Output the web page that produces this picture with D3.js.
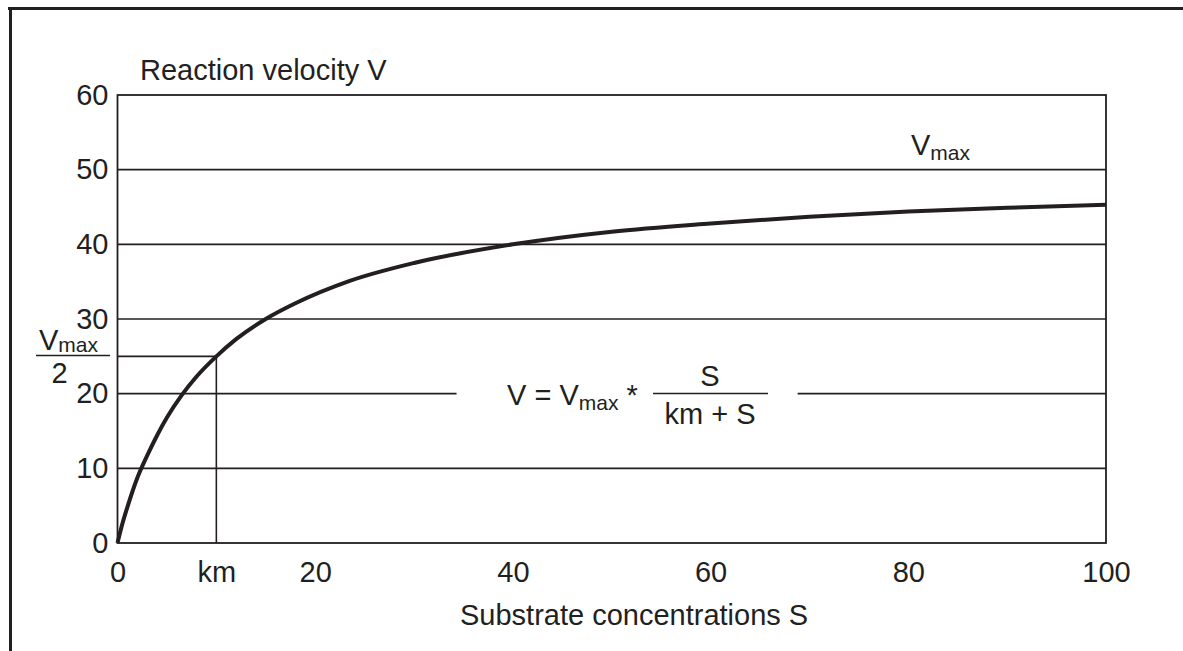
<!DOCTYPE html>
<html>
<head>
<meta charset="utf-8">
<script src="https://cdn.jsdelivr.net/npm/d3@7"></script>
<style>
  body { margin: 0; background: #fff; }
  svg text { font-family: Arial, "Liberation Sans", sans-serif; fill: #231f20; }
</style>
</head>
<body>
<svg width="1183" height="651"></svg>
<script>
// substrate concentration S and reaction velocity V
const sValues = [0, 0.5, 1, 2, 3, 4, 5, 6.5, 8, 10, 12, 15, 18, 23.5, 30, 40, 50, 60, 70, 80, 90, 100]
const vValues = [0, 2.6, 4.8, 8.7, 11.7, 14.4, 16.8, 19.8, 22.3, 25, 27.3, 30, 32.1, 35.1, 37.5, 40, 41.7, 42.8, 43.7, 44.4, 44.9, 45.3]
const yTicks = [0, 10, 20, 30, 40, 50, 60]
const xTicks = [0, 10, 20, 40, 60, 80, 100]
const xTickLabels = ['0', 'km', '20', '40', '60', '80', '100']
const gridValues = [10, 20, 30, 40, 50]
const km = 10
const halfVmax = 25

const INK = '#231f20'
const FS = '29px'
const SUB = '21px'
const svg = d3.select('svg')
const x = d3.scaleLinear().domain([0, 100]).range([117.5, 1106])
const y = d3.scaleLinear().domain([0, 60]).range([543, 95])
const gap = [34.3, 68.8] // hole in the 20 line for the formula

// outer frame (top and left only)
svg.append('line').attr('x1', 8).attr('y1', 8.5).attr('x2', 1183).attr('y2', 8.5)
    .attr('stroke', INK).attr('stroke-width', 3)
svg.append('line').attr('x1', 10.5).attr('y1', 7).attr('x2', 10.5).attr('y2', 651)
    .attr('stroke', INK).attr('stroke-width', 3)

// grid lines
gridValues.forEach(function (v) {
    let segs = v === 20 ? [[0, gap[0]], [gap[1], 100]] : [[0, 100]]
    segs.forEach(function (s) {
	svg.append('line')
	    .attr('x1', x(s[0])).attr('x2', x(s[1]))
	    .attr('y1', y(v)).attr('y2', y(v))
	    .attr('stroke', INK).attr('stroke-width', 1.6)
    })
})

// km / Vmax/2 guide lines
svg.append('line').attr('x1', x(0)).attr('x2', x(km)).attr('y1', y(halfVmax)).attr('y2', y(halfVmax))
    .attr('stroke', INK).attr('stroke-width', 1.6)
svg.append('line').attr('x1', x(km)).attr('x2', x(km)).attr('y1', y(0)).attr('y2', y(halfVmax))
    .attr('stroke', INK).attr('stroke-width', 1.6)

// plot frame
svg.append('rect')
    .attr('x', x(0)).attr('y', y(60))
    .attr('width', x(100) - x(0)).attr('height', y(0) - y(60))
    .attr('fill', 'none').attr('stroke', INK).attr('stroke-width', 1.8)

// curve
const pts = sValues.map((s, i) => [s, vValues[i]])
const line = d3.line()
    .x(d => x(d[0]))
    .y(d => y(d[1]))
    .curve(d3.curveMonotoneX)
svg.append('path')
    .datum(pts)
    .attr('d', line)
    .attr('fill', 'none')
    .attr('stroke', INK)
    .attr('stroke-width', 4)

// axes (labels only)
const yAxis = d3.axisLeft(y).tickValues(yTicks).tickSize(0).tickPadding(9).tickFormat(d3.format('d'))
const gy = svg.append('g').attr('transform', 'translate(' + x(0) + ',0)').call(yAxis)
const xAxis = d3.axisBottom(x).tickValues(xTicks).tickSize(0).tickPadding(18)
    .tickFormat((d, i) => xTickLabels[i])
const gx = svg.append('g').attr('transform', 'translate(0,' + y(0) + ')').call(xAxis)
;[gx, gy].forEach(function (g) {
    g.select('.domain').remove()
    g.attr('font-family', null).attr('font-size', null)
    g.selectAll('text').style('font-size', FS).attr('fill', INK)
})
gx.selectAll('text').attr('dy', '0.71em')

// titles
svg.append('text').attr('x', 140).attr('y', 80).style('font-size', FS).text('Reaction velocity V')
svg.append('text').attr('x', 460).attr('y', 625).style('font-size', FS).text('Substrate concentrations S')

// Vmax label at top
let t = svg.append('text').attr('x', 911).attr('y', 155).style('font-size', FS)
t.append('tspan').text('V')
t.append('tspan').attr('dy', 5).style('font-size', SUB).text('max')

// Vmax / 2 label on the left
t = svg.append('text').attr('x', 39).attr('y', 350).style('font-size', FS)
t.append('tspan').text('V')
t.append('tspan').attr('dy', 2).style('font-size', SUB).text('max')
svg.append('line').attr('x1', 36).attr('x2', 110).attr('y1', 355.5).attr('y2', 355.5)
    .attr('stroke', INK).attr('stroke-width', 1.5)
svg.append('text').attr('x', 59.5).attr('y', 383).attr('text-anchor', 'middle').style('font-size', FS).text('2')

// formula
t = svg.append('text').attr('x', 507).attr('y', 405).style('font-size', FS)
t.append('tspan').text('V = V')
t.append('tspan').attr('dy', 5).style('font-size', SUB).text('max')
t.append('tspan').attr('dy', -5).text(' *')
svg.append('line').attr('x1', 653).attr('x2', 768).attr('y1', 393.5).attr('y2', 393.5)
    .attr('stroke', INK).attr('stroke-width', 1.5)
svg.append('text').attr('x', 710).attr('y', 386).attr('text-anchor', 'middle').style('font-size', FS).text('S')
svg.append('text').attr('x', 710).attr('y', 424).attr('text-anchor', 'middle').style('font-size', FS).text('km + S')
</script>
</body>
</html>
